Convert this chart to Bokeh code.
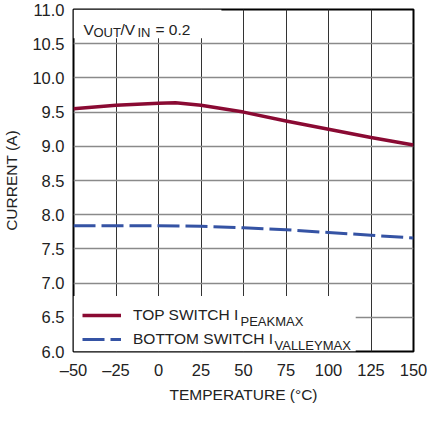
from bokeh.plotting import figure
from bokeh.models import (FixedTicker, NumeralTickFormatter, Legend, LegendItem,
                          Label, BoxAnnotation, Range1d)
from bokeh.embed import file_html
from bokeh.resources import INLINE

# ---- data ----
temp_peak = [-50, -25, 0, 10, 25, 50, 75, 100, 125, 150]
i_peakmax = [9.55, 9.60, 9.63, 9.635, 9.60, 9.50, 9.37, 9.25, 9.13, 9.02]

temp_valley = [-50, -25, 0, 25, 50, 75, 100, 125, 150]
i_valleymax = [7.84, 7.84, 7.84, 7.83, 7.81, 7.78, 7.74, 7.70, 7.66]

x_ticks = [-50, -25, 0, 25, 50, 75, 100, 125, 150]
y_ticks = [6.0, 6.5, 7.0, 7.5, 8.0, 8.5, 9.0, 9.5, 10.0, 10.5, 11.0]
x_tick_labels = {-50: "\u201350", -25: "\u201325"}

FONT = "Liberation Sans"
TXT = "#222222"
RED = "#8A0A33"
BLUE = "#3553A4"
TICK_SIZE = "16.5px"
LABEL_SIZE = "15.5px"
SUB_SIZE = "13px"

p = figure(width=427, height=405, output_backend="svg", toolbar_location=None,
           x_range=Range1d(-50, 150), y_range=Range1d(6, 11),
           min_border_left=69, min_border_right=14, min_border_top=9,
           min_border_bottom=51)
p.background_fill_color = "white"
p.border_fill_color = "white"
p.outline_line_color = "black"
p.outline_line_width = 2

# axes
for ax in (p.xaxis[0], p.yaxis[0]):
    ax.axis_line_color = None
    ax.major_tick_line_color = None
    ax.minor_tick_line_color = None
    ax.major_tick_out = 0
    ax.major_tick_in = 0
    ax.minor_tick_out = 0
    ax.minor_tick_in = 0
    ax.major_label_text_font = FONT
    ax.major_label_text_font_size = TICK_SIZE
    ax.major_label_text_color = TXT
    ax.axis_label_text_font = FONT
    ax.axis_label_text_font_size = LABEL_SIZE
    ax.axis_label_text_font_style = "normal"
    ax.axis_label_text_color = TXT

p.xaxis.ticker = FixedTicker(ticks=x_ticks)
p.xaxis.major_label_overrides = x_tick_labels
p.xaxis.major_label_standoff = 9
p.xaxis.axis_label = "TEMPERATURE (\u00b0C)"
p.xaxis.axis_label_standoff = 4

p.yaxis.ticker = FixedTicker(ticks=y_ticks)
p.yaxis.formatter = NumeralTickFormatter(format="0.0")
p.yaxis.major_label_standoff = 9
p.yaxis.axis_label = "CURRENT (A)"
p.yaxis.axis_label_standoff = 9

# grid
p.xgrid.grid_line_color = "#333333"
p.xgrid.grid_line_width = 1
p.ygrid.grid_line_color = "#8a8a8a"
p.ygrid.grid_line_width = 1.5

# white patches that hide the grid behind the text blocks
p.add_layout(BoxAnnotation(left=-50, right=116, bottom=6, top=6.81,
                           fill_color="white", fill_alpha=1, line_alpha=0,
                           level="underlay"))
p.add_layout(BoxAnnotation(left=-50, right=37, bottom=10.58, top=11,
                           fill_color="white", fill_alpha=1, line_alpha=0,
                           level="underlay"))

# data lines
r_peak = p.line(temp_peak, i_peakmax, line_color=RED, line_width=3.5)
r_valley = p.line(temp_valley, i_valleymax, line_color=BLUE, line_width=3,
                  line_dash="22 6")

legend = Legend(items=[LegendItem(label="TOP SWITCH I", renderers=[r_peak]),
                       LegendItem(label="BOTTOM SWITCH I", renderers=[r_valley])],
                location=(9, 0), orientation="vertical",
                background_fill_alpha=0, border_line_alpha=0,
                padding=0, spacing=0, margin=0,
                glyph_width=39, glyph_height=24, label_height=24,
                label_standoff=12,
                label_text_font=FONT, label_text_font_size=LABEL_SIZE,
                label_text_color=TXT)
p.add_layout(legend, "center")

def lab(x, y, text, dx, dy, size):
    p.add_layout(Label(x=x, y=y, x_offset=dx, y_offset=dy, text=text,
                       text_font=FONT, text_font_size=size, text_color=TXT,
                       text_baseline="alphabetic", text_align="left"))

# legend subscripts
lab(-50, 6, "PEAKMAX", 167, 30.5, SUB_SIZE)
lab(-50, 6, "VALLEYMAX", 201, 6.5, SUB_SIZE)

# V_OUT/V_IN = 0.2 annotation
lab(-50, 11, "V", 10, -19.5, LABEL_SIZE)
lab(-50, 11, "OUT", 20, -23, SUB_SIZE)
lab(-50, 11, "/V", 47, -19.5, LABEL_SIZE)
lab(-50, 11, "IN", 64, -23, SUB_SIZE)
lab(-50, 11, "= 0.2", 82, -19.5, LABEL_SIZE)

open("out.html", "w").write(file_html(p, INLINE))
